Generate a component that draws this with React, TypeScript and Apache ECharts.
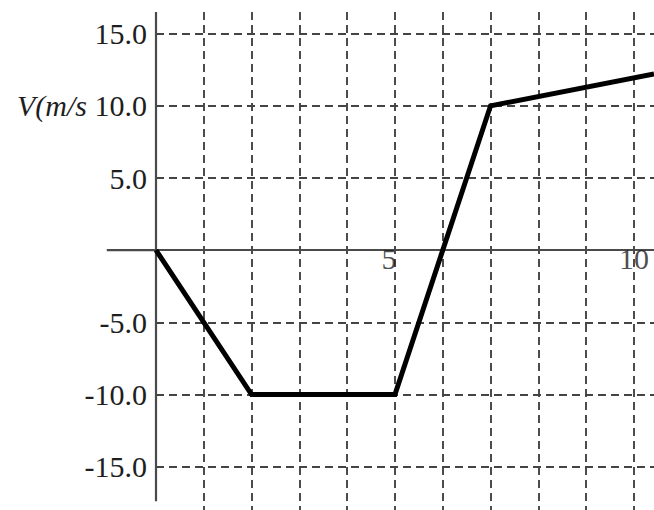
import React, { useEffect, useRef } from "react";
import * as echarts from "echarts";

// Velocity–time graph data
const timeValues = [0, 2, 5, 7, 10.42];
const velocityValues = [0, -10, -10, 10, 12.2];

// axis extents and labels
const xMin = 0;
const xMax = 10.42;
const yMin = -18;
const yMax = 16.5;
const xAxisLeftEnd = -1.03;
const yAxisTop = 16.5;
const yAxisBottom = -17.4;
const xLabelValues = [5, 10];
const yTitle = "V(m/s";

export default function App() {
  const ref = useRef<HTMLDivElement>(null);
  useEffect(() => {
    if (!ref.current) return;
    const chart = echarts.init(ref.current, null, { renderer: "svg" });
    const serif = "'Liberation Serif', 'Times New Roman', serif";
    const txt = "#1e1e1e";
    const axisColor = "#4a4a4a";
    const gridStyle = { color: "#444", width: 1.9, type: [8, 5] as number[] };
    chart.setOption({
      animation: false,
      backgroundColor: "#ffffff",
      grid: {
        left: 156,
        right: 0,
        top: 12,
        bottom: 0,
        containLabel: false,
        outerBoundsMode: "none",
      },
      xAxis: {
        type: "value",
        min: xMin,
        max: xMax,
        interval: 1,
        axisLine: { show: true, onZero: true, lineStyle: { color: axisColor, width: 2.2 } },
        axisTick: { show: false },
        splitLine: { show: true, showMinLine: false, showMaxLine: false, lineStyle: gridStyle },
        axisLabel: { show: false },
      },
      yAxis: {
        type: "value",
        min: yMin,
        max: yMax,
        splitNumber: 7,
        axisLine: { show: false },
        axisTick: { show: false },
        splitLine: { show: true, showMinLine: false, showMaxLine: false, lineStyle: gridStyle },
        axisLabel: {
          show: true,
          margin: 9,
          fontFamily: serif,
          fontSize: 30,
          color: txt,
          showMinLabel: false,
          showMaxLabel: false,
          formatter: (v: number) => {
            if (v === 0) return "";
            if (v === 10) return "{i|" + yTitle + "} " + v.toFixed(1);
            return v.toFixed(1);
          },
          rich: {
            i: { fontFamily: serif, fontStyle: "italic", fontSize: 30, color: txt },
          },
        },
      },
      series: [
        {
          type: "line",
          data: [[0, yAxisTop], [0, yAxisBottom]],
          clip: false,
          symbol: "none",
          silent: true,
          lineStyle: { color: axisColor, width: 2.2 },
          z: 3,
        },
        {
          type: "line",
          data: timeValues.map((t, i) => [t, velocityValues[i]]),
          symbol: "none",
          clip: false,
          lineStyle: { color: "#000", width: 5, join: "miter" },
          z: 5,
        },
        {
          type: "scatter",
          data: xLabelValues.map((v) => [v, 0]),
          symbolSize: 0,
          silent: true,
          clip: false,
          label: {
            show: true,
            position: "inside",
            formatter: (p: any) => String(p.value[0]),
            fontFamily: serif,
            fontSize: 30,
            color: txt,
          },
          labelLayout: (p: any) => ({
            dx: p.dataIndex === 0 ? -6 : 0,
            dy: 8,
          }),
          z: 6,
        },
      ],
    });
    const p0 = chart.convertToPixel({ gridIndex: 0 }, [0, 0]) as number[];
    const pl = chart.convertToPixel({ gridIndex: 0 }, [xAxisLeftEnd, 0]) as number[];
    chart.setOption({
      graphic: [
        {
          type: "line",
          shape: { x1: pl[0], y1: pl[1], x2: p0[0], y2: p0[1] },
          style: { stroke: axisColor, lineWidth: 2.2 },
          silent: true,
          z: 3,
        },
      ],
    });
    return () => chart.dispose();
  }, []);
  return (
    <div
      ref={ref}
      style={{ position: "fixed", left: 0, top: 0, width: 654, height: 510, background: "#fff" }}
    />
  );
}
